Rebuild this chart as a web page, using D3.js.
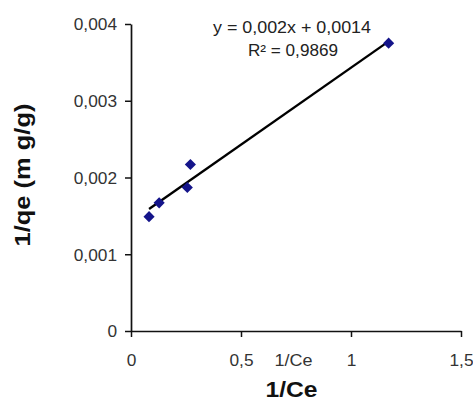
<!DOCTYPE html>
<html>
<head>
<meta charset="utf-8">
<script src="https://cdn.jsdelivr.net/npm/d3@7"></script>
<style>
  html, body { margin: 0; padding: 0; background: #fff; }
  svg { display: block; }
  text { font-family: "Liberation Sans", Arial, sans-serif; }
</style>
</head>
<body>
<svg id="chart" width="473" height="402"></svg>
<script>
// ---- data ----
const xValues = [0.082, 0.128, 0.256, 0.270, 1.171];          // 1/Ce
const yValues = [0.00149, 0.00167, 0.00187, 0.00217, 0.00375]; // 1/qe
const xTickValues = [0, 0.5, 1, 1.5];
const xTickLabels = ["0", "0,5", "1", "1,5"];
const yTickValues = [0, 0.001, 0.002, 0.003, 0.004];
const yTickLabels = ["0", "0,001", "0,002", "0,003", "0,004"];
const equationText = "y = 0,002x + 0,0014";
const r2Text = "R\u00B2 = 0,9869";
const xTitle = "1/Ce";
const xStrayLabel = "1/Ce";
const yTitle = "1/qe (m g/g)";

// ---- layout ----
const svg = d3.select("#chart");
const x = d3.scaleLinear().domain([0, 1.5]).range([131, 461]);
const y = d3.scaleLinear().domain([0, 0.004]).range([331, 24]);

function stretch(sel, f) {
  sel.each(function () {
    const w = this.getComputedTextLength();
    d3.select(this).attr("textLength", w * f).attr("lengthAdjust", "spacingAndGlyphs");
  });
}

// axes
const xAxis = d3.axisBottom(x).tickValues(xTickValues)
  .tickFormat((d, i) => xTickLabels[i]).tickSize(6).tickSizeOuter(0);
const yAxis = d3.axisLeft(y).tickValues(yTickValues)
  .tickFormat((d, i) => yTickLabels[i]).tickSize(6).tickSizeOuter(0);

const gx = svg.append("g").attr("transform", "translate(0,331)").call(xAxis);
const gy = svg.append("g").attr("transform", "translate(131,0)").call(yAxis);

[gx, gy].forEach(g => {
  g.select(".domain").attr("stroke", "#111").attr("stroke-width", 1.7);
  g.selectAll(".tick line").attr("stroke", "#111").attr("stroke-width", 1.5);
  g.selectAll(".tick text").attr("fill", "#333")
    .style("font-size", "16px").style("font-family", "'Liberation Sans', Arial, sans-serif");
});
gx.selectAll(".tick text").attr("y", 0).attr("dy", 0).attr("transform", "translate(0,35)");
gy.selectAll(".tick text").attr("x", -14).attr("dy", "0.36em");
stretch(gx.selectAll(".tick text"), 1.08);
stretch(gy.selectAll(".tick text"), 1.08);

// regression trendline from data
const n = xValues.length;
const mx = d3.mean(xValues), my = d3.mean(yValues);
let sxy = 0, sxx = 0;
for (let i = 0; i < n; i++) { sxy += (xValues[i] - mx) * (yValues[i] - my); sxx += (xValues[i] - mx) ** 2; }
const slope = sxy / sxx, intercept = my - slope * mx;
const xr = d3.extent(xValues);
svg.append("line")
  .attr("x1", x(xr[0])).attr("y1", y(slope * xr[0] + intercept))
  .attr("x2", x(xr[1])).attr("y2", y(slope * xr[1] + intercept))
  .attr("stroke", "#000").attr("stroke-width", 2.4);

// points (diamonds)
const pts = xValues.map((v, i) => [v, yValues[i]]);
svg.append("g").selectAll("path").data(pts).join("path")
  .attr("d", d3.symbol(d3.symbolSquare, 62))
  .attr("transform", d => `translate(${x(d[0])},${y(d[1])}) rotate(45)`)
  .attr("fill", "#14148a");

// equation labels
svg.append("text").attr("x", 292).attr("y", 33).attr("text-anchor", "middle")
  .style("font-size", "16px").attr("fill", "#222").text(equationText)
  .attr("textLength", 158).attr("lengthAdjust", "spacingAndGlyphs");
svg.append("text").attr("x", 293).attr("y", 56).attr("text-anchor", "middle")
  .style("font-size", "16px").attr("fill", "#222").text(r2Text)
  .attr("textLength", 90).attr("lengthAdjust", "spacingAndGlyphs");

// stray x label
svg.append("text").attr("x", 293.5).attr("y", 366).attr("text-anchor", "middle")
  .style("font-size", "16px").attr("fill", "#333").text(xStrayLabel)
  .attr("textLength", 38).attr("lengthAdjust", "spacingAndGlyphs");

// axis titles
svg.append("text").attr("x", 291.5).attr("y", 397).attr("text-anchor", "middle")
  .style("font-size", "22px").style("font-weight", "bold").attr("fill", "#111").text(xTitle)
  .attr("textLength", 52).attr("lengthAdjust", "spacingAndGlyphs");
svg.append("text").attr("transform", "translate(30,175) rotate(-90)").attr("text-anchor", "middle")
  .style("font-size", "22px").style("font-weight", "bold").attr("fill", "#111").text(yTitle)
  .attr("textLength", 143).attr("lengthAdjust", "spacingAndGlyphs");
</script>
</body>
</html>
